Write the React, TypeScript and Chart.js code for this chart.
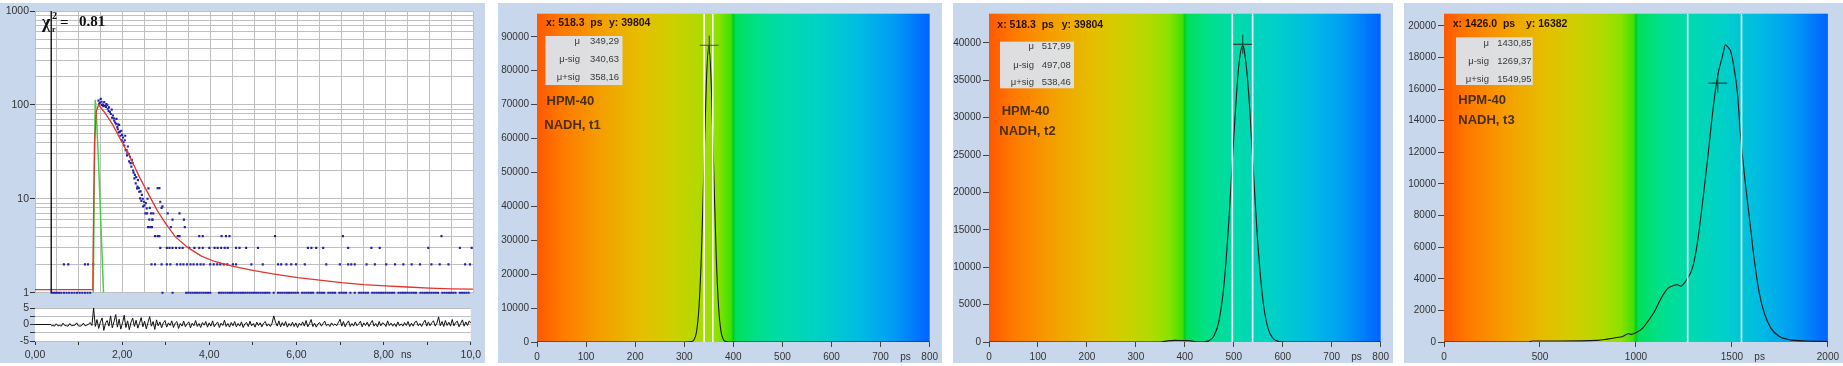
import React, { useEffect, useRef } from 'react';
import { Chart, registerables } from 'chart.js';
Chart.register(...registerables);

const FONT = '"Liberation Sans", Arial, Helvetica, sans-serif';
const SERIF = '"Liberation Serif", "DejaVu Serif", "Times New Roman", serif';
const PANEL_BG = '#c8d7eb';
const GRID = '#bfbfbf';

// ================= Panel 1: fluorescence decay (log) =================
const timeTickValues = [0, 1, 2, 3, 4, 5, 6, 7, 8, 9, 10];
const timeTickLabels = ['0,00', '', '2,00', '', '4,00', '', '6,00', '', '8,00', '', '10,0'];
const logGridValues = [1, 2, 3, 4, 5, 6, 7, 8, 9, 10, 20, 30, 40, 50, 60, 70, 80, 90, 100, 200, 300, 400, 500, 600, 700, 800, 900, 1000];
const logMajorValues = [1, 10, 100, 1000];
const logMajorLabels = ['1', '10', '100', '1000'];
const residTickValues = [-5, -2.5, 0, 2.5, 5];
const residTickLabels = ['-5', '', '0', '', '5'];

const markerX = [0.37, 0.37];
const markerY = [1, 1000];

const fitX = [0, 1.32, 1.33, 1.36, 1.40, 1.45, 1.6, 1.77, 2.0, 2.2, 2.4, 2.6, 2.8, 3.0, 3.2, 3.5, 3.8, 4.1, 4.5, 5.0, 5.5, 6.0, 6.5, 7.0, 7.5, 8.0, 8.5, 9.0, 9.5, 10];
const fitY = [1.08, 1.08, 3.5, 40, 85, 100, 82, 62, 39, 26, 16.5, 11, 7.4, 5.3, 3.95, 3.0, 2.45, 2.15, 1.92, 1.72, 1.57, 1.45, 1.36, 1.28, 1.22, 1.18, 1.15, 1.12, 1.1, 1.09];

const irfX = [1.33, 1.355, 1.375, 1.40, 1.45, 1.50, 1.565];
const irfY = [1, 20, 113, 80, 25, 6, 1];

const decayX = [1.45, 1.48, 1.50, 1.53, 1.56, 1.58, 1.60, 1.63, 1.66, 1.69, 1.73, 1.75, 1.78, 1.81, 1.83, 1.86, 1.88, 1.91, 1.92, 1.95, 1.97, 1.98, 2.01, 2.04, 2.06, 2.07, 2.10, 2.12, 2.15, 2.17, 2.20, 2.23, 2.25, 2.27, 2.30, 2.33, 2.35, 2.38, 2.40, 2.44, 2.47, 2.49, 2.52, 2.55, 2.57, 2.59, 2.80, 2.84, 2.86, 2.89, 2.91,
  1.47, 1.52, 1.55, 1.62, 1.65, 1.68, 1.71, 1.76, 1.80, 1.85, 1.89, 1.90, 1.94, 1.99, 2.02, 2.05, 2.09, 2.11, 2.14, 2.18, 2.21, 2.24, 2.28, 2.31, 2.34, 2.37, 2.41, 2.43, 2.46, 2.50, 2.53, 2.56, 2.62, 2.68];
const decayY = [111, 105, 116, 100, 97, 107, 98, 102, 91, 94, 80, 89, 77, 68, 65, 71, 58, 51, 61, 47, 53, 42, 45, 37, 47, 33, 29, 36, 25, 28, 22, 24, 19, 16.5, 14.6, 12.9, 15.8, 11.9, 10.1, 11, 8.3, 9.3, 7, 7.9, 10, 12.9, 13, 13, 9.3, 8, 8.3,
  103, 108, 101, 95, 99, 86, 84, 73, 72, 63, 55, 62, 52, 48, 40, 42, 33, 31, 30, 24, 26, 20, 18, 17, 13.5, 13, 12, 9.5, 10, 8.5, 9, 7, 8, 6];

const level1X = [0.38, 0.42, 0.46, 0.5, 0.55, 0.6, 0.66, 0.72, 0.78, 0.84, 0.9, 0.96, 1.02, 1.08, 1.14, 1.2, 1.26, 2.91, 3.14, 3.45, 3.5, 3.55, 3.6, 3.65, 3.7, 3.75, 3.8, 3.85, 3.9, 3.95, 4.0, 4.2, 4.25, 4.3, 4.35, 4.4, 4.45, 4.5, 4.55, 4.6, 4.65, 4.7, 4.75, 4.8, 4.85, 4.9, 4.95, 5.0, 5.05, 5.1, 5.15, 5.2, 5.25, 5.3, 5.35, 5.45, 5.55, 5.6, 5.65, 5.7, 5.75, 5.8, 5.85, 5.9, 5.95, 6.0, 6.1, 6.15, 6.2, 6.25, 6.3, 6.35, 6.45, 6.5, 6.55, 6.6, 6.7, 6.75, 6.8, 6.85, 6.95, 7.0, 7.05, 7.1, 7.2, 7.3, 7.4, 7.45, 7.5, 7.55, 7.6, 7.7, 7.75, 7.8, 7.85, 7.9, 7.95, 8.0, 8.05, 8.1, 8.15, 8.2, 8.3, 8.35, 8.4, 8.45, 8.5, 8.55, 8.6, 8.65, 8.7, 8.8, 8.85, 8.9, 8.95, 9.0, 9.05, 9.1, 9.15, 9.2, 9.3, 9.35, 9.4, 9.45, 9.5, 9.55, 9.6, 9.7, 9.75, 9.8, 9.85, 9.9];
const level2X = [0.66, 0.76, 1.14, 1.21, 1.33, 2.66, 2.74, 2.89, 3.01, 3.09, 3.24, 3.32, 3.39, 3.47, 3.55, 3.62, 3.70, 3.78, 3.85, 4.00, 4.08, 4.16, 4.23, 4.31, 4.39, 4.52, 4.59, 4.94, 5.20, 5.55, 5.62, 5.74, 5.85, 5.96, 6.16, 6.65, 6.96, 7.15, 7.22, 7.30, 7.57, 7.76, 8.02, 8.22, 8.41, 8.60, 8.79, 9.05, 9.24, 9.44, 9.82, 9.93];
const level3X = [2.86, 3.01, 3.07, 3.14, 3.22, 3.30, 3.37, 3.52, 3.64, 3.75, 3.83, 3.98, 4.10, 4.17, 4.25, 4.33, 4.40, 4.59, 4.67, 4.82, 5.09, 6.23, 6.31, 6.42, 6.58, 7.15, 7.68, 7.87, 8.98, 9.70, 9.97];
const level4X = [2.74, 2.80, 2.84, 3.26, 3.30, 3.75, 3.83, 4.26, 4.36, 4.44, 5.48, 7.03, 9.28];
const level5X = [2.58, 2.63, 2.67, 3.10, 3.42];
const level6X = [2.61, 2.68, 3.14, 3.40];
const level7X = [2.65, 2.70, 3.03, 3.30];

const RESID_START_NS = 0.37;
const CHANNEL_NS = 0.039;
const residLeadX = [0, 0.37];
const residLeadY = [0, 0];
const residualValues = [
  -0.4, -0.3, -0.5, 0.2, -0.4, -0.3, -0.5, 0.4, -0.3, -0.4, -0.5, 0.3, -0.4, -0.3, -0.2, 0.5, -0.4, -0.5, -0.3, 0.4, -0.4, -0.2, 0.1, 0.6, -0.3,
  5.0,
  -0.6, 1.5, -1.2, 0.8, 2.0, -1.8, 0.4, 1.2, -0.5, 2.6, -1.0, 0.9, 3.0, -0.8, 1.6, -1.4, 0.5, 2.8, -0.9, 1.1,
  -1.6, 0.7, 1.9, -0.6, 1.3, -1.1, 0.4, 2.1, -0.7, 1.0, -1.3, 0.6, 2.4, -0.5, 0.9, -1.5, 1.4, -0.4, 0.8, -1.0, 0.5, 1.2,
  -0.8, 0.5, -0.3, 1.1, -0.9, 0.4, 0.9, -1.2, 0.3, -0.5, 1.0, -0.7, 0.2, 0.8, -1.0, 0.4, -0.4, 1.2, -0.6, 0.3,
  -0.9, 0.6, -0.2, 0.9, -0.8, 0.5, -0.5, 1.1, -0.7, 0.2, 0.7, -0.9, 0.4, -0.3, 1.3, -0.6, 0.3, -0.8, 0.6, -0.4,
  0.9, -0.7, 0.3, -0.5, 0.8, -0.9, 0.2, 0.6, -0.6, 1.0, -0.4, 0.3, -0.8, 0.7, -0.3, 0.5, -0.7, 0.4, 0.9, -0.5,
  0.2, -0.6, 0.4, 2.6, 0.8, -0.5, 1.1, -0.7, 0.6, -0.4, 0.9, -0.8, 0.3, -0.5, 0.7, -0.6, 0.5, -0.9, 0.4, -0.3,
  0.8, -0.5, 1.2, -0.7, 0.3, 1.5, -0.6, 0.4, -0.8, 0.2, 0.6, -0.5, 0.3, 1.0, -0.4, 0.1, -0.6, 0.5, -0.3, 0.2,
  -0.4, 0.6, 1.6, -0.5, 0.9, -0.7, 0.4, 1.1, -0.6, 0.3, -0.5, 0.8, -0.4, 0.2, 1.0, -0.7, 0.5, -0.3, 0.7, -0.6,
  0.4, 1.2, -0.5, 0.3, -0.7, 0.9, -0.4, 0.5, 0.2, -0.6, 1.1, -0.3, 0.4, -0.5, 0.3, -0.6, 0.8, -0.4, 0.2, -0.5,
  0.6, -0.3, 0.9, -0.6, 0.4, -0.5, 0.7, 1.0, -0.4, 0.3, -0.6, 0.5, 1.3, -0.5, 0.8, -0.4, 0.6, 1.1, -0.5, 0.4,
  2.3, -0.4, 0.9, -0.6, 1.2, -0.3, 0.7, -0.5, 1.5, -0.4, 0.6, 1.0, -0.7, 0.3, 1.4, -0.5, 0.8, -0.3, 1.1, 0.4,
];

// ================= Panels 2-4: lifetime histograms =================
const t1X = [0, 300, 315, 320, 325, 330, 335, 340, 345, 350, 355, 360, 365, 370, 375, 380, 385, 390, 800];
const t1Y = [0, 0, 120, 690, 3030, 10170, 26000, 51000, 76300, 87300, 76300, 51000, 26000, 10170, 3030, 690, 120, 0, 0];
const t1StatLabels = ['μ', 'μ-sig', 'μ+sig'];
const t1StatValues = ['349,29', '340,63', '358,16'];
const t1Sig = [340.63, 358.16];
const t1Cursor = [351, 87500];
const t1Header = ['x: 518.3  ps', 'y: 39804'];
const t1Title = ['HPM-40', 'NADH, t1'];
const t1XTicks = [0, 100, 200, 300, 400, 500, 600, 700, 800];
const t1YTicks = [0, 10000, 20000, 30000, 40000, 50000, 60000, 70000, 80000, 90000];

const t2X = [0, 350, 365, 380, 395, 410, 425, 440, 450, 460, 470, 480, 490, 500, 510, 518, 520, 530, 540, 550, 560, 570, 580, 590, 600, 610, 800];
const t2Y = [0, 0, 150, 220, 200, 180, 40, 40, 207, 870, 2890, 7680, 16240, 27400, 36800, 39600, 39420, 33600, 22850, 12360, 5350, 1830, 500, 110, 20, 0, 0];
const t2StatLabels = ['μ', 'μ-sig', 'μ+sig'];
const t2StatValues = ['517,99', '497,08', '538,46'];
const t2Sig = [497.08, 538.46];
const t2Cursor = [518.3, 39804];
const t2Header = ['x: 518.3  ps', 'y: 39804'];
const t2Title = ['HPM-40', 'NADH, t2'];
const t2XTicks = [0, 100, 200, 300, 400, 500, 600, 700, 800];
const t2YTicks = [0, 5000, 10000, 15000, 20000, 25000, 30000, 35000, 40000];

const t3X = [0, 440, 460, 600, 800, 850, 900, 931, 960, 975, 1001, 1035, 1061, 1096, 1131, 1166, 1190, 1215, 1235, 1250, 1270, 1296, 1322, 1348, 1374, 1400, 1426, 1452, 1466, 1480, 1495, 1512, 1530, 1542, 1565, 1591, 1617, 1643, 1669, 1703, 1747, 1799, 1885, 2000];
const t3Y = [0, 0, 60, 60, 100, 180, 280, 350, 520, 480, 600, 880, 1290, 1920, 2760, 3390, 3550, 3620, 3530, 3700, 4050, 4740, 6410, 8920, 11640, 14560, 16860, 18120, 18800, 18650, 18330, 17280, 15610, 13520, 10600, 7880, 5160, 3070, 1820, 880, 350, 150, 60, 30];
const t3StatLabels = ['μ', 'μ-sig', 'μ+sig'];
const t3StatValues = ['1430,85', '1269,37', '1549,95'];
const t3Sig = [1269.37, 1549.95];
const t3Cursor = [1426.0, 16382];
const t3Header = ['x: 1426.0  ps', 'y: 16382'];
const t3Title = ['HPM-40', 'NADH, t3'];
const t3XTicks = [0, 500, 1000, 1500, 2000];
const t3YTicks = [0, 2000, 4000, 6000, 8000, 10000, 12000, 14000, 16000, 18000, 20000];

const GRADIENT_STOPS: [number, string][] = [
  [0, '#ff5800'], [0.06, '#ff7800'], [0.16, '#f59e00'], [0.26, '#e6bd00'], [0.34, '#d0cf00'],
  [0.41, '#b2da00'], [0.46, '#8ce200'], [0.494, '#40e000'], [0.5, '#00cc22'], [0.506, '#00e05a'],
  [0.56, '#00e08a'], [0.64, '#00daae'], [0.72, '#00d2c6'], [0.82, '#00bce2'], [0.91, '#009cf4'], [1, '#0062ff'],
];

type TextItem = { text?: string; x?: number; dataX?: number; dataY?: number; y?: number; font?: string; color?: string; align?: CanvasTextAlign; box?: { x: number; y: number; w: number; h: number; color: string } };

function makeBg(gradient: boolean) {
  return {
    id: 'areaBg',
    beforeDraw(chart: any) {
      const { ctx, chartArea: a } = chart;
      if (!a) return;
      ctx.save();
      if (gradient) {
        const g = ctx.createLinearGradient(a.left, 0, a.right, 0);
        GRADIENT_STOPS.forEach(([p, c]) => g.addColorStop(p, c));
        ctx.fillStyle = g;
      } else {
        ctx.fillStyle = '#ffffff';
      }
      ctx.fillRect(a.left, a.top, a.right - a.left, a.bottom - a.top);
      ctx.restore();
    },
  };
}

function makeTexts(items: TextItem[]) {
  const draw = (chart: any) => {
    const ctx = chart.ctx;
    items.forEach((it) => {
      ctx.save();
      if (it.box) {
        ctx.fillStyle = it.box.color;
        ctx.fillRect(it.box.x, it.box.y, it.box.w, it.box.h);
      } else {
        ctx.font = it.font!;
        ctx.fillStyle = it.color!;
        ctx.textAlign = it.align || 'left';
        ctx.textBaseline = 'middle';
        const x = it.dataX !== undefined ? chart.scales.x.getPixelForValue(it.dataX) : it.x!;
        const y = it.dataY !== undefined ? chart.scales.y.getPixelForValue(it.dataY) : it.y!;
        ctx.fillText(it.text!, x, y);
      }
      ctx.restore();
    });
  };
  return { id: 'texts', afterDraw: draw };
}

const tickFont = { family: FONT, size: 10 };

function decayConfig(): any {
  const photons = [
    ...decayX.map((x, i) => ({ x, y: decayY[i] })),
    ...level1X.map((x) => ({ x, y: 1 })),
    ...level2X.map((x) => ({ x, y: 2 })),
    ...level3X.map((x) => ({ x, y: 3 })),
    ...level4X.map((x) => ({ x, y: 4 })),
    ...level5X.map((x) => ({ x, y: 5 })),
    ...level6X.map((x) => ({ x, y: 6 })),
    ...level7X.map((x) => ({ x, y: 7 })),
  ];
  const texts: TextItem[] = [
    ...logMajorValues.map((v, i) => ({ text: logMajorLabels[i], x: 29, dataY: v, font: `10.5px ${FONT}`, color: '#333', align: 'right' as CanvasTextAlign })),
    { text: 'χ', x: 42, y: 20, font: `bold 18px ${SERIF}`, color: '#111' },
    { text: '2', x: 52, y: 13, font: `bold 10px ${SERIF}`, color: '#111' },
    { text: 'r', x: 52, y: 27, font: `bold 8px ${SERIF}`, color: '#111' },
    { text: '=', x: 60, y: 20, font: `bold 15px ${SERIF}`, color: '#111' },
    { text: '0.81', x: 79, y: 19, font: `bold 15px ${SERIF}`, color: '#111' },
  ];
  return {
    type: 'scatter',
    data: {
      datasets: [
        { data: markerX.map((x, i) => ({ x, y: markerY[i] })), showLine: true, borderColor: '#000', borderWidth: 1.3, pointRadius: 0, order: 0 },
        { data: fitX.map((x, i) => ({ x, y: fitY[i] })), showLine: true, borderColor: '#e4342c', borderWidth: 1.3, pointRadius: 0, order: 1 },
        { data: irfX.map((x, i) => ({ x, y: irfY[i] })), showLine: true, borderColor: '#45d045', borderWidth: 1.5, pointRadius: 0, order: 2 },
        { data: photons, pointStyle: 'rect', pointRadius: 1.5, backgroundColor: '#2020a8', borderWidth: 0, order: 3, clip: 3 },
      ],
    },
    options: {
      animation: false, responsive: false, events: [],
      layout: { padding: { left: 0, right: 12, top: 8, bottom: 5 } },
      plugins: { legend: { display: false }, tooltip: { enabled: false } },
      scales: {
        x: {
          type: 'linear', min: 0, max: 10,
          ticks: { display: false, stepSize: 0.5, includeBounds: false },
          grid: { color: GRID, drawTicks: false },
          border: { display: false },
          afterFit: (ax: any) => { ax.height = 0; },
        },
        y: {
          type: 'logarithmic', min: 1, max: 1000,
          afterBuildTicks: (ax: any) => { ax.ticks = logGridValues.map((v) => ({ value: v })); },
          afterFit: (ax: any) => { ax.width = 35; },
          ticks: { autoSkip: false, padding: 1, font: { family: FONT, size: 10.5 }, callback: () => '' },
          grid: {
            color: GRID, tickLength: 5,
            tickColor: (c: any) => (logMajorValues.indexOf(c.tick?.value) >= 0 ? '#333' : 'rgba(0,0,0,0)'),
          },
          border: { display: false },
        },
      },
    },
    plugins: [makeBg(false), makeTexts(texts)],
  };
}

function residConfig(): any {
  const resid = residualValues.map((v, i) => ({ x: RESID_START_NS + i * CHANNEL_NS, y: v }));
  return {
    type: 'scatter',
    data: {
      datasets: [
        { data: residLeadX.map((x, i) => ({ x, y: residLeadY[i] })), showLine: true, borderColor: '#111', borderWidth: 1, pointRadius: 0 },
        { data: resid, showLine: true, borderColor: '#111', borderWidth: 1, pointRadius: 0 },
      ],
    },
    options: {
      animation: false, responsive: false, events: [],
      layout: { padding: { left: 0, right: 12, top: 8, bottom: 0 } },
      plugins: { legend: { display: false }, tooltip: { enabled: false } },
      scales: {
        x: {
          type: 'linear', min: 0, max: 10,
          afterBuildTicks: (ax: any) => { ax.ticks = timeTickValues.map((v) => ({ value: v })); },
          afterFit: (ax: any) => { ax.height = 22; },
          ticks: {
            autoSkip: false, maxRotation: 0, padding: 4, color: '#333', font: { family: FONT, size: 10.5 },
            callback: (v: number) => { const k = timeTickValues.indexOf(v); return k >= 0 ? timeTickLabels[k] : ''; },
          },
          grid: { drawOnChartArea: false, tickLength: 4, tickColor: '#333' },
          border: { display: false },
        },
        y: {
          type: 'linear', min: -5, max: 5,
          afterBuildTicks: (ax: any) => { ax.ticks = residTickValues.map((v) => ({ value: v })); },
          afterFit: (ax: any) => { ax.width = 35; },
          ticks: {
            autoSkip: false, padding: 1, color: '#333', font: { family: FONT, size: 10.5 },
            callback: (v: number) => { const k = residTickValues.indexOf(v); return k >= 0 ? residTickLabels[k] : ''; },
          },
          grid: { color: GRID, tickLength: 5, tickColor: '#333' },
          border: { display: false },
        },
      },
    },
    plugins: [makeBg(false), makeTexts([{ text: 'ns', dataX: 8.4, y: 55, font: `10px ${FONT}`, color: '#333' }])],
  };
}

type HistSpec = {
  xs: number[]; ys: number[]; xMax: number; yMax: number; xTicks: number[]; yTicks: number[];
  sig: number[]; cursor: number[]; header: string[]; statLabels: string[]; statValues: string[]; title: string[];
  unitAt: number; yAxisW: number; rightPad: number; topPad: number;
  headerPos: number[]; box: number[]; rows: number[]; labelRight: number; valueLeft: number; titlePos: number[];
};

function histConfig(p: HistSpec): any {
  const items: TextItem[] = [
    { text: p.header[0], x: p.headerPos[0], y: p.headerPos[2], font: `bold 10.5px ${FONT}`, color: '#2a1400' },
    { text: p.header[1], x: p.headerPos[1], y: p.headerPos[2], font: `bold 10.5px ${FONT}`, color: '#2a1400' },
    { box: { x: p.box[0], y: p.box[1], w: p.box[2], h: p.box[3], color: 'rgba(220,227,236,0.95)' } },
    ...p.statLabels.map((t, i) => ({ text: t, x: p.labelRight, y: p.rows[i], font: `9.5px ${FONT}`, color: '#3a3a3a', align: 'right' as CanvasTextAlign })),
    ...p.statValues.map((t, i) => ({ text: t, x: p.valueLeft, y: p.rows[i], font: `9.5px ${FONT}`, color: '#3a3a3a' })),
    { text: p.title[0], x: p.titlePos[0], y: p.titlePos[1], font: `bold 13px ${FONT}`, color: '#4a2e12' },
    { text: p.title[1], x: p.titlePos[2], y: p.titlePos[3], font: `bold 13px ${FONT}`, color: '#4a2e12' },
    { text: 'ps', dataX: p.unitAt, y: 354, font: `10px ${FONT}`, color: '#333' },
  ];
  return {
    type: 'scatter',
    data: {
      datasets: [
        { data: [{ x: p.cursor[0], y: p.cursor[1] }], pointStyle: 'cross', pointRadius: 9.5, borderColor: 'rgba(45,40,25,0.8)', backgroundColor: 'rgba(0,0,0,0)', borderWidth: 1.2, order: 0 },
        { data: [{ x: p.sig[0], y: 0 }, { x: p.sig[0], y: p.yMax }], showLine: true, borderColor: 'rgba(255,255,255,0.95)', borderWidth: 1.6, pointRadius: 0, order: 1 },
        { data: [{ x: p.sig[1], y: 0 }, { x: p.sig[1], y: p.yMax }], showLine: true, borderColor: 'rgba(255,255,255,0.95)', borderWidth: 1.6, pointRadius: 0, order: 1 },
        { data: p.xs.map((x, i) => ({ x, y: p.ys[i] })), showLine: true, borderColor: '#161616', borderWidth: 1.1, pointRadius: 0, cubicInterpolationMode: 'monotone', order: 2 },
      ],
    },
    options: {
      animation: false, responsive: false, events: [],
      layout: { padding: { left: 0, right: p.rightPad, top: p.topPad, bottom: 0 } },
      plugins: { legend: { display: false }, tooltip: { enabled: false } },
      scales: {
        x: {
          type: 'linear', min: 0, max: p.xMax,
          afterBuildTicks: (ax: any) => { ax.ticks = p.xTicks.map((v) => ({ value: v })); },
          afterFit: (ax: any) => { ax.height = 21; },
          ticks: { autoSkip: false, maxRotation: 0, padding: 4, color: '#333', font: tickFont, callback: (v: number) => String(v) },
          grid: { drawOnChartArea: false, tickLength: 5, tickColor: '#444' },
          border: { display: false },
        },
        y: {
          type: 'linear', min: 0, max: p.yMax,
          afterBuildTicks: (ax: any) => { ax.ticks = p.yTicks.map((v) => ({ value: v })); },
          ticks: { autoSkip: false, padding: 2, color: '#333', font: tickFont, callback: (v: number) => String(v) },
          afterFit: (ax: any) => { ax.width = p.yAxisW; },
          grid: { drawOnChartArea: false, tickLength: 6, tickColor: '#444' },
          border: { display: false },
        },
      },
    },
    plugins: [makeBg(true), makeTexts(items)],
  };
}

const panel2: HistSpec = {
  xs: t1X, ys: t1Y, xMax: 800, yMax: 96800, xTicks: t1XTicks, yTicks: t1YTicks,
  sig: t1Sig, cursor: t1Cursor, header: t1Header, statLabels: t1StatLabels, statValues: t1StatValues, title: t1Title,
  unitAt: 740, yAxisW: 39, rightPad: 10, topPad: 8,
  headerPos: [48, 111, 20.5], box: [47.5, 33, 77, 49], rows: [38.8, 56.4, 74.3], labelRight: 82, valueLeft: 92, titlePos: [48.5, 98.7, 46.3, 122],
};
const panel3: HistSpec = {
  xs: t2X, ys: t2Y, xMax: 800, yMax: 43900, xTicks: t2XTicks, yTicks: t2YTicks,
  sig: t2Sig, cursor: t2Cursor, header: t2Header, statLabels: t2StatLabels, statValues: t2StatValues, title: t2Title,
  unitAt: 740, yAxisW: 36, rightPad: 11, topPad: 9,
  headerPos: [44.3, 108.7, 22], box: [47, 38.7, 74, 46.6], rows: [43.8, 62, 79.8], labelRight: 81, valueLeft: 88.7, titlePos: [48.7, 108, 46.3, 128.7],
};
const panel4: HistSpec = {
  xs: t3X, ys: t3Y, xMax: 2000, yMax: 20770, xTicks: t3XTicks, yTicks: t3YTicks,
  sig: t3Sig, cursor: t3Cursor, header: t3Header, statLabels: t3StatLabels, statValues: t3StatValues, title: t3Title,
  unitAt: 1617, yAxisW: 40, rightPad: 14, topPad: 8,
  headerPos: [48.7, 122, 21], box: [52, 34.3, 76.7, 47.7], rows: [40.3, 58.3, 76.3], labelRight: 85, valueLeft: 93.3, titlePos: [54.3, 97, 54.3, 117],
};

export default function App() {
  const mainRef = useRef<HTMLCanvasElement>(null);
  const residRef = useRef<HTMLCanvasElement>(null);
  const h1Ref = useRef<HTMLCanvasElement>(null);
  const h2Ref = useRef<HTMLCanvasElement>(null);
  const h3Ref = useRef<HTMLCanvasElement>(null);

  useEffect(() => {
    const charts: Chart[] = [];
    charts.push(new Chart(mainRef.current!, decayConfig()));
    charts.push(new Chart(residRef.current!, residConfig()));
    charts.push(new Chart(h1Ref.current!, histConfig(panel2)));
    charts.push(new Chart(h2Ref.current!, histConfig(panel3)));
    charts.push(new Chart(h3Ref.current!, histConfig(panel4)));
    return () => charts.forEach((c) => c.destroy());
  }, []);

  const abs = (l: number, t: number, w: number, h: number, bg?: string): React.CSSProperties => ({
    position: 'absolute', left: l, top: t, width: w, height: h, background: bg,
  });

  return (
    <div style={{ position: 'absolute', left: 0, top: 0, width: 1843, height: 366, background: '#ffffff', overflow: 'hidden' }}>
      <div style={abs(0, 3, 485, 360, PANEL_BG)} />
      <div style={abs(498, 3, 444, 360, PANEL_BG)} />
      <div style={abs(953, 3, 440, 360, PANEL_BG)} />
      <div style={abs(1404, 3, 439, 360, PANEL_BG)} />
      <canvas ref={mainRef} width={485} height={297} style={abs(0, 3, 485, 297)} />
      <canvas ref={residRef} width={485} height={63} style={abs(0, 300, 485, 63)} />
      <canvas ref={h1Ref} width={444} height={360} style={abs(498, 3, 444, 360)} />
      <canvas ref={h2Ref} width={440} height={360} style={abs(953, 3, 440, 360)} />
      <canvas ref={h3Ref} width={439} height={360} style={abs(1404, 3, 439, 360)} />
    </div>
  );
}
